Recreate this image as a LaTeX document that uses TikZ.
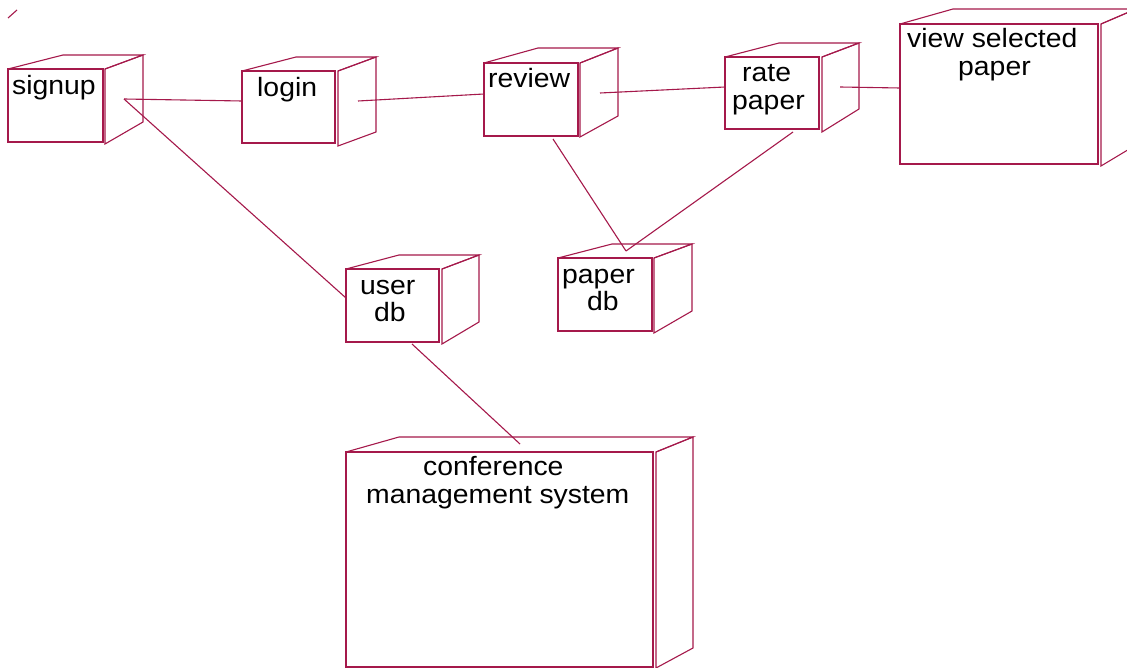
\documentclass[tikz,border=0pt]{standalone}
\usepackage{fontspec}
\setmainfont{Liberation Sans}[FakeStretch=1.07]
\definecolor{linec}{RGB}{165,25,75}
\begin{document}
\begin{tikzpicture}[x=1pt,y=-1pt,
  edge/.style={draw=linec,line width=1.1pt},
  label/.style={inner sep=0pt,anchor=base west,font=\fontsize{26.5}{28}\selectfont},
  cubeline/.style={draw=linec,line width=1.1pt,line join=miter},
  frontline/.style={draw=linec,line width=1.6pt}]
\useasboundingbox[fill=white] (0,0) rectangle (1127,668);
\begin{scope}
\clip (0,0) rectangle (1127,668);
% signup
\draw[frontline] (8,69) rectangle (103,142);
\draw[cubeline] (8,69) -- (63,55) -- (143,55) -- (105,69);
\draw[cubeline] (105,69) -- (143,55) -- (143,122) -- (105,144) -- cycle;
% login
\draw[frontline] (242,71) rectangle (335,143);
\draw[cubeline] (242,71) -- (296,57) -- (376,57) -- (338,71);
\draw[cubeline] (338,71) -- (376,57) -- (376,132) -- (338,146) -- cycle;
% review
\draw[frontline] (484,63) rectangle (578,136);
\draw[cubeline] (484,63) -- (538,48) -- (618,48) -- (580,63);
\draw[cubeline] (580,63) -- (618,48) -- (618,116) -- (580,137) -- cycle;
% rate paper
\draw[frontline] (725,57) rectangle (819,129);
\draw[cubeline] (725,57) -- (779,43) -- (859,43) -- (822,57);
\draw[cubeline] (822,57) -- (859,43) -- (859,109) -- (822,132) -- cycle;
% view selected paper
\draw[frontline] (900,24) rectangle (1098,164);
\draw[cubeline] (900,24) -- (953,9) -- (1136,9) -- (1101,24);
\draw[cubeline] (1101,24) -- (1136,9) -- (1136,145) -- (1101,166) -- cycle;
% paper db
\draw[frontline] (558,258) rectangle (652,331);
\draw[cubeline] (558,258) -- (612,244) -- (692,244) -- (654,258);
\draw[cubeline] (654,258) -- (692,244) -- (692,311) -- (654,333) -- cycle;
% user db
\draw[frontline] (346,269) rectangle (439,342);
\draw[cubeline] (346,269) -- (399,255) -- (479,255) -- (442,269);
\draw[cubeline] (442,269) -- (479,255) -- (479,322) -- (442,344) -- cycle;
% conference management system
\draw[frontline] (346,452) rectangle (653,667);
\draw[cubeline] (346,452) -- (399,437) -- (693,437) -- (656,452);
\draw[cubeline] (656,452) -- (693,437) -- (693,648) -- (656,668) -- cycle;
\end{scope}
% labels
\node[label] (tsignup) at (12,95) {signup};
\node[label] (tlogin) at (257,97) {login};
\node[label] (treview) at (488,88) {review};
\node[label] (trate1) at (742,82) {rate};
\node[label] (trate2) at (732,110) {paper};
\node[label] (tview1) at (907,48) {view selected};
\node[label] (tview2) at (958,76) {paper};
\node[label] (tuser1) at (360,295) {user};
\node[label] (tuser2) at (374,322) {db};
\node[label] (tpaper1) at (562,284) {paper};
\node[label] (tpaper2) at (587,311) {db};
\node[label] (tconf1) at (423,475) {conference};
\node[label] (tconf2) at (366,503) {management system};
% connector end points
\coordinate (signupC) at (124,99);
\coordinate (loginW) at (242,101);
\coordinate (loginC) at (358,101);
\coordinate (reviewW) at (484,94);
\coordinate (reviewC) at (600,93);
\coordinate (rateW) at (725,87);
\coordinate (rateC) at (840,87);
\coordinate (viewW) at (900,88);
\coordinate (reviewS) at (553,139);
\coordinate (rateS) at (793,132);
\coordinate (paperN) at (626,251);
\coordinate (userW) at (346,298);
\coordinate (userS) at (412,344);
\coordinate (confN) at (520,444);
\coordinate (slashA) at (8,18);
\coordinate (slashB) at (17,10);
% connectors
\draw[edge] (signupC) -- (loginW);
\draw[edge] (signupC) -- (userW);
\draw[edge] (loginC) -- (reviewW);
\draw[edge] (reviewC) -- (rateW);
\draw[edge] (rateC) -- (viewW);
\draw[edge] (reviewS) -- (paperN);
\draw[edge] (rateS) -- (paperN);
\draw[edge] (userS) -- (confN);
\draw[edge] (slashA) -- (slashB);
\end{tikzpicture}
\end{document}
